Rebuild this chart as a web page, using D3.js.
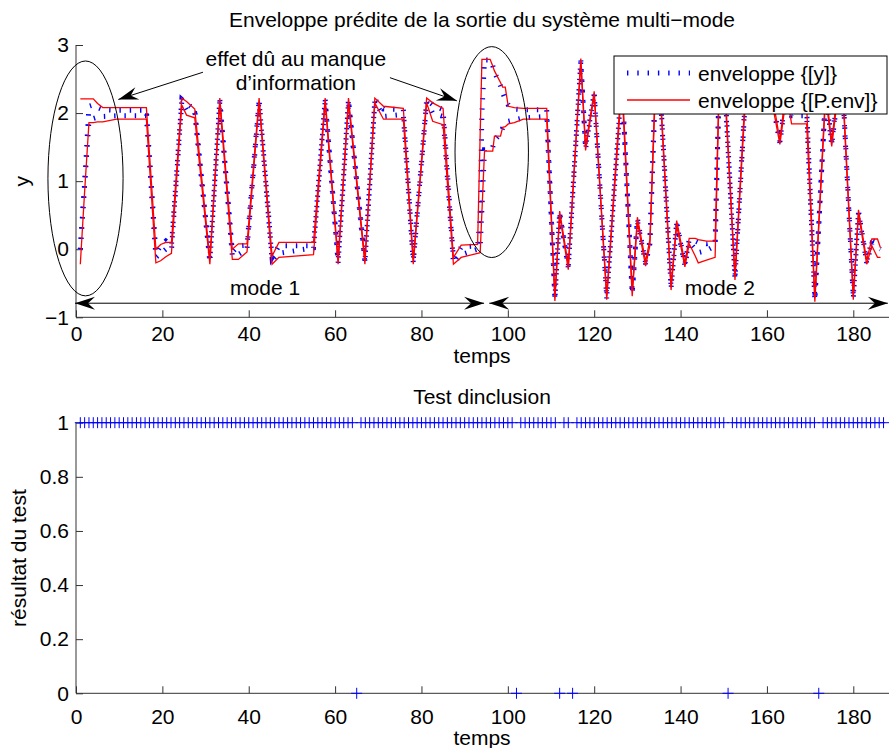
<!DOCTYPE html>
<html>
<head>
<meta charset="utf-8">
<script src="https://cdn.jsdelivr.net/npm/d3@7"></script>
<style>
  body { margin: 0; background: #fff; }
  svg text { font-family: "Liberation Sans", Arial, sans-serif; font-size: 21px; fill: #000; }
</style>
</head>
<body>
<svg id="fig" width="889" height="748"></svg>
<script>
"use strict";

// ---- données ----
// instants des points de l'enveloppe (axe temps)
const temps = [
  1.0, 2.0, 3.0, 4.0, 5.0, 6.2, 9.4, 16.3, 18.5, 19.6, 20.8, 22.1, 24.5, 25.6, 27.5,
  31.0, 33.3, 36.2, 37.6, 39.6, 42.4, 45.4, 47.0, 55.0, 57.7, 60.7, 63.1, 66.9, 69.2,
  71.2, 75.8, 78.1, 81.2, 82.6, 85.0, 87.4, 89.2, 93.0, 93.6, 94.0, 94.6, 95.9, 96.5,
  96.9, 98.3, 98.8, 99.4, 100.1, 101.5, 103.6, 109.0, 110.9, 112.0, 114.0, 116.9, 118.0,
  120.0, 122.9, 126.4, 128.8, 130.0, 131.9, 132.9, 134.2, 135.3, 137.8, 139.1, 141.0,
  142.0, 143.4, 144.1, 146.0, 148.0, 149.0, 150.0, 152.6, 155.3, 158.0, 160.2, 163.0,
  164.6, 165.7, 169.2, 171.1, 173.6, 175.0, 176.4, 177.6, 180.0, 181.2, 183.1, 184.3,
  185.6, 186.3
];
// enveloppe {[y]} : borne inférieure / supérieure
const yInf = [
  0.00, 0.95, 1.88, 1.92, 1.94, 1.95, 1.96, 1.96, -0.12, -0.06, 0.00, -0.02, 2.17, 2.04, 2.00,
  -0.19, 2.17, -0.10, -0.08, 0.00, 2.17, -0.16, -0.06, 0.02, 2.17, -0.20, 2.17, -0.20, 2.17,
  1.95, 1.98, -0.20, 2.17, 2.00, 1.95, -0.20, -0.08, 0.00, 0.02, 0.60, 1.46, 1.46, 1.50,
  1.60, 1.70, 1.78, 1.82, 1.88, 1.90, 1.93, 1.95, -0.74, 0.52, -0.27, 2.76, 1.47,
  2.28, -0.72, 2.45, -0.66, 0.42, -0.22, 0.08, 2.45, 2.28, -0.57, 0.37, -0.24,
  0.10, 0.00, -0.05, -0.02, 0.05, 2.55, 2.65, -0.43, 2.55, 2.25, 2.55, 1.56,
  2.35, 1.96, 1.96, -0.75, 2.28, 1.53, 2.28, 2.28, -0.72, 0.54, -0.20, 0.08,
  0.03, 0.00
];
const ySup = [
  0.00, 0.98, 2.10, 2.12, 2.08, 2.05, 2.04, 2.04, -0.06, 0.05, 0.12, 0.05, 2.20, 2.14, 2.05,
  -0.16, 2.20, -0.04, 0.05, 0.06, 2.20, -0.12, 0.05, 0.05, 2.20, -0.17, 2.20, -0.17, 2.20,
  2.06, 2.05, -0.17, 2.20, 2.12, 2.05, -0.14, 0.03, 0.05, 0.50, 2.00, 2.78, 2.78, 2.70,
  2.60, 2.40, 2.30, 2.20, 2.12, 2.06, 2.05, 2.05, -0.72, 0.54, -0.25, 2.78, 1.50,
  2.30, -0.70, 2.50, -0.64, 0.45, -0.20, 0.12, 2.50, 2.32, -0.55, 0.40, -0.22,
  0.14, 0.12, 0.10, 0.08, 0.10, 2.60, 2.70, -0.41, 2.60, 2.30, 2.60, 1.58,
  2.40, 2.05, 2.05, -0.73, 2.32, 1.56, 2.32, 2.32, -0.70, 0.56, -0.18, 0.13,
  0.10, 0.04
];
// enveloppe {[P.env]} : borne inférieure / supérieure
const pInf = [
  -0.22, 0.85, 1.86, 1.86, 1.87, 1.87, 1.91, 1.91, -0.20, -0.17, -0.11, -0.06, 2.12, 1.97, 1.93,
  -0.22, 2.15, -0.15, -0.15, -0.04, 2.15, -0.22, -0.12, -0.08, 2.15, -0.22, 2.15, -0.22, 2.15,
  1.91, 1.91, -0.22, 2.15, 1.88, 1.83, -0.22, -0.12, -0.06, -0.05, 0.55, 1.44, 1.44, 1.44,
  1.66, 1.66, 1.79, 1.80, 1.84, 1.86, 1.91, 1.91, -0.76, 0.50, -0.30, 2.74, 1.45,
  2.26, -0.74, 2.40, -0.69, 0.40, -0.25, 0.06, 2.40, 2.25, -0.60, 0.35, -0.26,
  0.08, -0.10, -0.20, -0.16, -0.12, 2.50, 2.60, -0.45, 2.50, 2.20, 2.50, 1.54,
  2.30, 1.84, 1.84, -0.77, 2.25, 1.51, 2.25, 2.25, -0.74, 0.52, -0.22, 0.05,
  -0.12, -0.12
];
const pSup = [
  2.21, 2.21, 2.21, 2.21, 2.14, 2.08, 2.08, 2.08, 0.00, 0.07, 0.10, 0.10, 2.22, 2.17, 2.06,
  -0.14, 2.22, 0.00, 0.08, 0.08, 2.22, -0.10, 0.10, 0.10, 2.22, -0.15, 2.22, -0.15, 2.22,
  2.10, 2.07, -0.15, 2.22, 2.15, 2.07, -0.12, 0.06, 0.07, 1.70, 2.79, 2.79, 2.79, 2.69,
  2.62, 2.45, 2.38, 2.38, 2.10, 2.08, 2.07, 2.07, -0.70, 0.56, -0.23, 2.80, 1.52,
  2.32, -0.68, 2.55, -0.62, 0.47, -0.18, 0.14, 2.55, 2.35, -0.53, 0.42, -0.20,
  0.16, 0.16, 0.14, 0.12, 0.12, 2.65, 2.75, -0.39, 2.65, 2.35, 2.65, 1.60,
  2.45, 2.10, 2.10, -0.71, 2.35, 1.58, 2.35, 2.35, -0.68, 0.58, -0.16, 0.15,
  0.15, 0.02
];

// test d'inclusion : échantillons 1..187, résultat 0 aux instants suivants
const testDebut = 1;
const testFin = 187;
const testEchecs = [65, 102, 112, 115, 151, 172];

const xTicks = [0, 20, 40, 60, 80, 100, 120, 140, 160, 180];
const yTicksHaut = [-1, 0, 1, 2, 3];
const yTicksBas = [0, 0.2, 0.4, 0.6, 0.8, 1];

// ---- mise en page ----
const svg = d3.select("#fig");
const axisColor = "#333";

const x = d3.scaleLinear().domain([0, 180]).range([76, 853.3]);
const xMax = 188.3; // l'axe des temps va jusqu'au bord droit
const yH = d3.scaleLinear().domain([-1, 3]).range([317.3, 45]);
const yB = d3.scaleLinear().domain([0, 1]).range([693.3, 422.7]);

function drawAxes(yScale, yTicks, yFmt, pad) {
  const y0 = yScale.range()[0];
  const g = svg.append("g");
  const ax = g.append("g")
    .attr("transform", `translate(0,${y0})`)
    .call(d3.axisBottom(x).tickValues(xTicks).tickSizeInner(-7).tickSizeOuter(0).tickPadding(pad));
  const ay = g.append("g")
    .attr("transform", `translate(${x(0)},0)`)
    .call(d3.axisLeft(yScale).tickValues(yTicks).tickFormat(yFmt).tickSizeInner(-7).tickSizeOuter(0).tickPadding(7));
  [ax, ay].forEach(a => {
    a.attr("font-size", null).attr("font-family", null);
    a.select(".domain").remove();
    a.selectAll(".tick line").attr("stroke", axisColor);
  });
  g.append("line")
    .attr("x1", x(0)).attr("x2", x(xMax))
    .attr("y1", y0).attr("y2", y0)
    .attr("stroke", axisColor);
  g.append("line")
    .attr("x1", x(0)).attr("x2", x(0))
    .attr("y1", y0).attr("y2", yScale.range()[1])
    .attr("stroke", axisColor);
}

drawAxes(yH, yTicksHaut, d3.format("d"), 8.5);
drawAxes(yB, yTicksBas, d => String(d), 15.5);

// ---- sous-figure 1 : enveloppes ----
const pts = (vals) => temps.map((t, i) => [t, vals[i]]);
const line = d3.line().x(d => x(d[0])).y(d => yH(d[1]));

const blueStyle = (sel) => sel
  .attr("fill", "none")
  .attr("stroke", "#0000ff")
  .attr("stroke-width", 5)
  .attr("stroke-dasharray", "1.4,8.9");

[yInf, ySup].forEach(v => {
  svg.append("path").datum(pts(v)).attr("d", line).call(blueStyle);
});
[pInf, pSup].forEach(v => {
  svg.append("path").datum(pts(v)).attr("d", line)
    .attr("fill", "none").attr("stroke", "#ff0000").attr("stroke-width", 1.3);
});

// annotations
const annot = svg.append("g").attr("stroke", "#000").attr("fill", "none").attr("stroke-width", 1);
const kx = x(1) - x(0), ky = yH(0) - yH(1);
annot.append("ellipse")
  .attr("cx", x(2.2)).attr("cy", yH(1.04)).attr("rx", 8.7 * kx).attr("ry", 1.725 * ky);
annot.append("ellipse")
  .attr("cx", x(96.27)).attr("cy", yH(1.427)).attr("rx", 8.5 * kx).attr("ry", 1.549 * ky);

function arrowHead(x1, y1, x2, y2) {
  // pointe en (x2, y2), style « vback2 »
  const a = Math.atan2(y2 - y1, x2 - x1);
  const L = 20, W = 6.5, N = 13;
  const p = [[0, 0], [-L, -W], [-N, 0], [-L, W]].map(([u, v]) => [
    x2 + u * Math.cos(a) - v * Math.sin(a),
    y2 + u * Math.sin(a) + v * Math.cos(a)
  ]);
  svg.append("path").attr("d", "M" + p.join("L") + "Z").attr("fill", "#000");
}
function arrow(t1, v1, t2, v2, both) {
  const X1 = x(t1), Y1 = yH(v1), X2 = x(t2), Y2 = yH(v2);
  annot.append("line").attr("x1", X1).attr("y1", Y1).attr("x2", X2).attr("y2", Y2);
  arrowHead(X1, Y1, X2, Y2);
  if (both) arrowHead(X2, Y2, X1, Y1);
}
arrow(29.4, 2.60, 9.8, 2.20, false);
arrow(72.7, 2.52, 88.2, 2.18, false);
arrow(-0.23, -0.793, 94.5, -0.793, true);
arrow(95.7, -0.793, 188.0, -0.793, true);

svg.append("text").attr("x", x(50.9)).attr("y", yH(2.687)).attr("text-anchor", "middle").text("effet dû au manque");
svg.append("text").attr("x", x(50.9)).attr("y", yH(2.335)).attr("text-anchor", "middle").text("d’information");
svg.append("text").attr("x", x(43.8)).attr("y", yH(-0.675)).attr("text-anchor", "middle").text("mode 1");
svg.append("text").attr("x", x(149.1)).attr("y", yH(-0.675)).attr("text-anchor", "middle").text("mode 2");

// légende
const leg = svg.append("g");
leg.append("rect").attr("x", 614).attr("y", 56).attr("width", 273).attr("height", 58)
  .attr("fill", "#fff").attr("stroke", "#000").attr("stroke-width", 1);
leg.append("line").attr("x1", 627).attr("x2", 690).attr("y1", 73).attr("y2", 73).call(blueStyle);
leg.append("line").attr("x1", 627).attr("x2", 690).attr("y1", 100).attr("y2", 100)
  .attr("stroke", "#ff0000").attr("stroke-width", 1.3);
leg.append("text").attr("x", 698).attr("y", 80.5).text("enveloppe {[y]}");
leg.append("text").attr("x", 698).attr("y", 107.5).text("enveloppe {[P.env]}");

// titres et libellés
svg.append("text").attr("x", 482).attr("y", 27).attr("text-anchor", "middle")
  .text("Enveloppe prédite de la sortie du système multi−mode");
svg.append("text").attr("x", 482).attr("y", 363).attr("text-anchor", "middle").text("temps");
svg.append("text").attr("transform", `translate(29,${(yH(-1) + yH(3)) / 2}) rotate(-90)`)
  .attr("text-anchor", "middle").text("y");

svg.append("text").attr("x", 482).attr("y", 404).attr("text-anchor", "middle").text("Test dinclusion");
svg.append("text").attr("x", 482).attr("y", 745).attr("text-anchor", "middle").text("temps");
svg.append("text").attr("transform", `translate(26,${(yB(0) + yB(1)) / 2}) rotate(-90)`)
  .attr("text-anchor", "middle").text("résultat du test");

// ---- sous-figure 2 : test d'inclusion ----
const test = d3.range(testDebut, testFin + 1).map(t => [t, testEchecs.includes(t) ? 0 : 1]);
const h = 5.5;
svg.append("g").selectAll("path").data(test).join("path")
  .attr("d", d => {
    const cx = x(d[0]), cy = yB(d[1]);
    return `M${cx - h},${cy}H${cx + h}M${cx},${cy - h}V${cy + h}`;
  })
  .attr("stroke", "#0000ff").attr("stroke-width", 1).attr("fill", "none");
</script>
</body>
</html>
